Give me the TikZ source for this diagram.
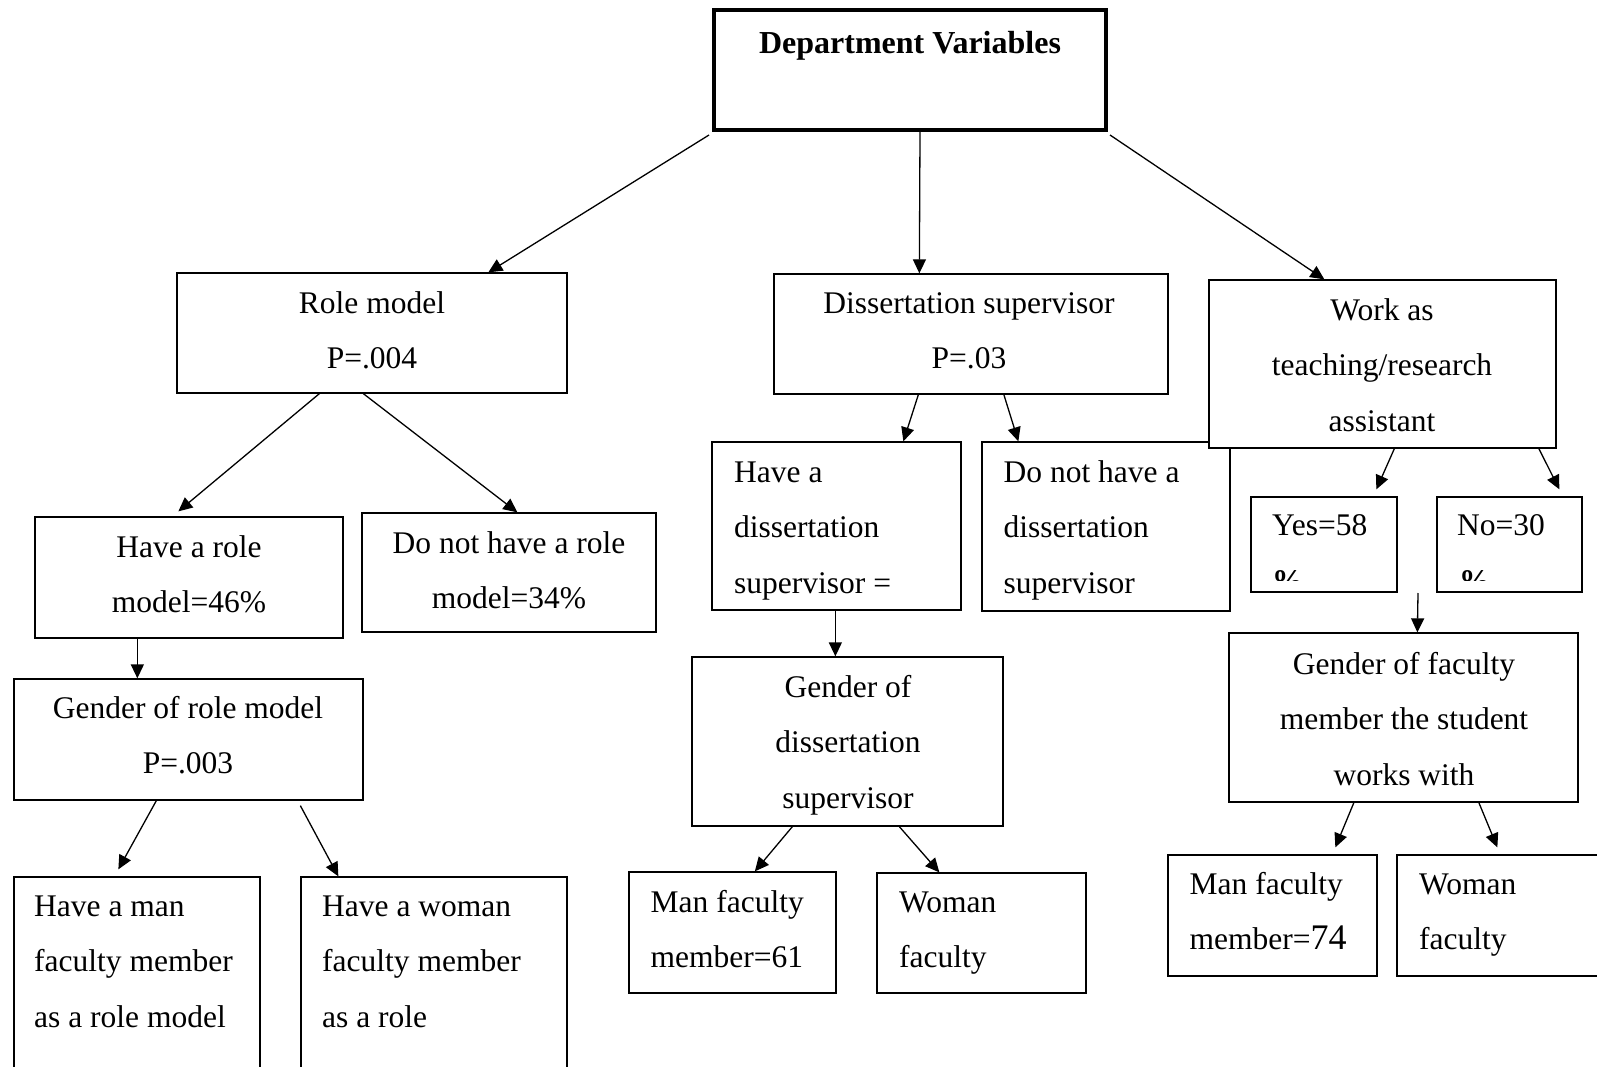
\documentclass[tikz,border=0pt]{standalone}
\usepackage{fontspec}
\setmainfont{Liberation Serif}
\usetikzlibrary{arrows.meta,fit}
% strut that fixes the top of a text block 24pt above its first baseline
\newcommand\fl{\rule{0pt}{24pt}}
\begin{document}
\begin{tikzpicture}[x=1pt,y=-1pt,
  box/.style={draw, line width=1.3pt, fill=white, inner sep=0pt, rectangle},
  mainbox/.style={box, line width=4pt},
  txt/.style={inner sep=0pt, font=\fontsize{31.5}{55.5}\selectfont},
  ltxt/.style={txt, anchor=north west, align=left},
  ctxt/.style={txt, anchor=north, align=center},
  arr/.style={line width=1.3pt, -{Triangle[length=14pt,width=13pt]}}]
\useasboundingbox (0,0) rectangle (1597,1067);
\fill[white] (0,0) rectangle (1597,1067);
\clip (0,0) rectangle (1597,1067);

% ---- boxes ----
\node[mainbox, fit={(714,10) (1106,130)}] (top) {};
\node[box, fit={(177,273) (567,393)}] (rm) {};
\node[box, fit={(774,274) (1168,394)}] (ds) {};
\node[box, fit={(35,517) (343,638)}] (hr) {};
\node[box, fit={(362,513) (656,632)}] (nr) {};
\node[box, fit={(712,442) (961,610)}] (hd) {};
\node[box, fit={(982,442) (1230,611)}] (nd) {};
\node[box, fit={(1209,280) (1556,448)}] (wk) {};
\node[box, fit={(1251,497) (1397,592)}] (yes) {};
\node[box, fit={(1437,497) (1582,592)}] (no) {};
\node[box, fit={(14,679) (363,800)}] (gr) {};
\node[box, fit={(692,657) (1003,826)}] (gd) {};
\node[box, fit={(1229,633) (1578,802)}] (gf) {};
\node[box, fit={(14,877) (260,1090)}] (hm) {};
\node[box, fit={(301,877) (567,1090)}] (hw) {};
\node[box, fit={(629,872) (836,993)}] (m61) {};
\node[box, fit={(877,873) (1086,993)}] (wf1) {};
\node[box, fit={(1168,855) (1377,976)}] (m74) {};
\node[box, fit={(1397,855) (1620,976)}] (wf2) {};

% ---- texts ----
\node[ctxt, font=\fontsize{32}{40}\selectfont\bfseries] (t-top) at (910,29) {\fl Department Variables};
\node[ctxt] (t-rm) at (372,289) {\fl Role model\\P=.004};
\node[ctxt] (t-ds) at (969,289) {\fl Dissertation supervisor\\P=.03};
\node[ctxt] (t-wk) at (1382,296) {\fl Work as\\teaching/research\\assistant};
\node[ctxt] (t-hr) at (189,533) {\fl Have a role\\model=46\%};
\node[ctxt] (t-nr) at (509,529) {\fl Do not have a role\\model=34\%};
\node[ltxt] (t-hd) at (734,458) {\fl Have a\\dissertation\\supervisor =};
\node[ltxt] (t-nd) at (1003.5,458) {\fl Do not have a\\dissertation\\supervisor};
\node[ltxt] (t-yes) at (1272,511) {\fl Yes=58};
\node[ltxt] (t-no) at (1457,511) {\fl No=30};
\node[ctxt] (t-gr) at (188,694) {\fl Gender of role model\\P=.003};
\node[ctxt] (t-gd) at (848,673) {\fl Gender of\\dissertation\\supervisor};
\node[ctxt] (t-gf) at (1404,650) {\fl Gender of faculty\\member the student\\works with};
\node[ltxt] (t-hm) at (34,892) {\fl Have a man\\faculty member\\as a role model};
\node[ltxt] (t-hw) at (322,892) {\fl Have a woman\\faculty member\\as a role};
\node[ltxt] (t-m61) at (650.5,888) {\fl Man faculty\\member=61};
\node[ltxt] (t-wf1) at (899,888) {\fl Woman\\faculty};
\node[ltxt] (t-m74) at (1189.5,870) {\fl Man faculty\\member={\fontsize{36}{36}\selectfont 74}};
\node[ltxt] (t-wf2) at (1419,870) {\fl Woman\\faculty};

% percent signs cut off by the lower edge of their text frames
\begin{scope}
  \clip (1260,560) rectangle (1590,580.5);
  \node[ltxt, font=\fontsize{31.5}{55.5}\selectfont\bfseries] (p-yes) at (1272,567) {\fl\%};
  \node[ltxt, font=\fontsize{31.5}{55.5}\selectfont\bfseries] (p-no) at (1459,567) {\fl\%};
\end{scope}

% ---- connectors ----
\draw[arr] ([xshift=-3pt,yshift=-3pt]top.south west) -- ([xshift=312pt]rm.north west);
\draw[arr] ([xshift=10pt]top.south) -- ([xshift=146pt]ds.north west);
\draw[arr] ([xshift=2pt,yshift=-3pt]top.south east) -- ([xshift=116pt]wk.north west);

\draw[arr] ([xshift=143pt]rm.south west) -- ([xshift=144pt,yshift=5pt]hr.north west);
\draw[arr] ([xshift=187pt]rm.south west) -- ([xshift=156pt]nr.north west);
\draw[arr] ([xshift=103pt]hr.south west) -- ([xshift=124pt]gr.north west);
\draw[arr] ([xshift=143pt]gr.south west) -- ([xshift=105pt,yshift=7pt]hm.north west);
\draw[arr] ([xshift=287pt,yshift=-5pt]gr.south west) -- ([xshift=38pt]hw.north west);

\draw[arr] ([xshift=145pt]ds.south west) -- ([xshift=192pt]hd.north west);
\draw[arr] ([xshift=230.5pt]ds.south west) -- ([xshift=37pt]nd.north west);
\draw[arr] ([xshift=124pt]hd.south west) -- ([xshift=144pt]gd.north west);
\draw[arr] ([xshift=101pt]gd.south west) -- ([xshift=126.5pt]m61.north west);
\draw[arr] ([xshift=208pt]gd.south west) -- ([xshift=63pt]wf1.north west);

\draw[arr] ([xshift=186pt]wk.south west) -- ([xshift=126pt,yshift=7pt]yes.north west);
\draw[arr] ([xshift=330.5pt]wk.south west) -- ([xshift=123pt,yshift=7pt]no.north west);
\coordinate (split) at (1418,593);
\draw[arr] (split) -- ([xshift=189pt]gf.north west);
\draw[arr] ([xshift=125.5pt]gf.south west) -- ([xshift=168pt,yshift=7pt]m74.north west);
\draw[arr] ([xshift=250.5pt]gf.south west) -- ([xshift=101pt,yshift=7pt]wf2.north west);
\end{tikzpicture}
\end{document}
